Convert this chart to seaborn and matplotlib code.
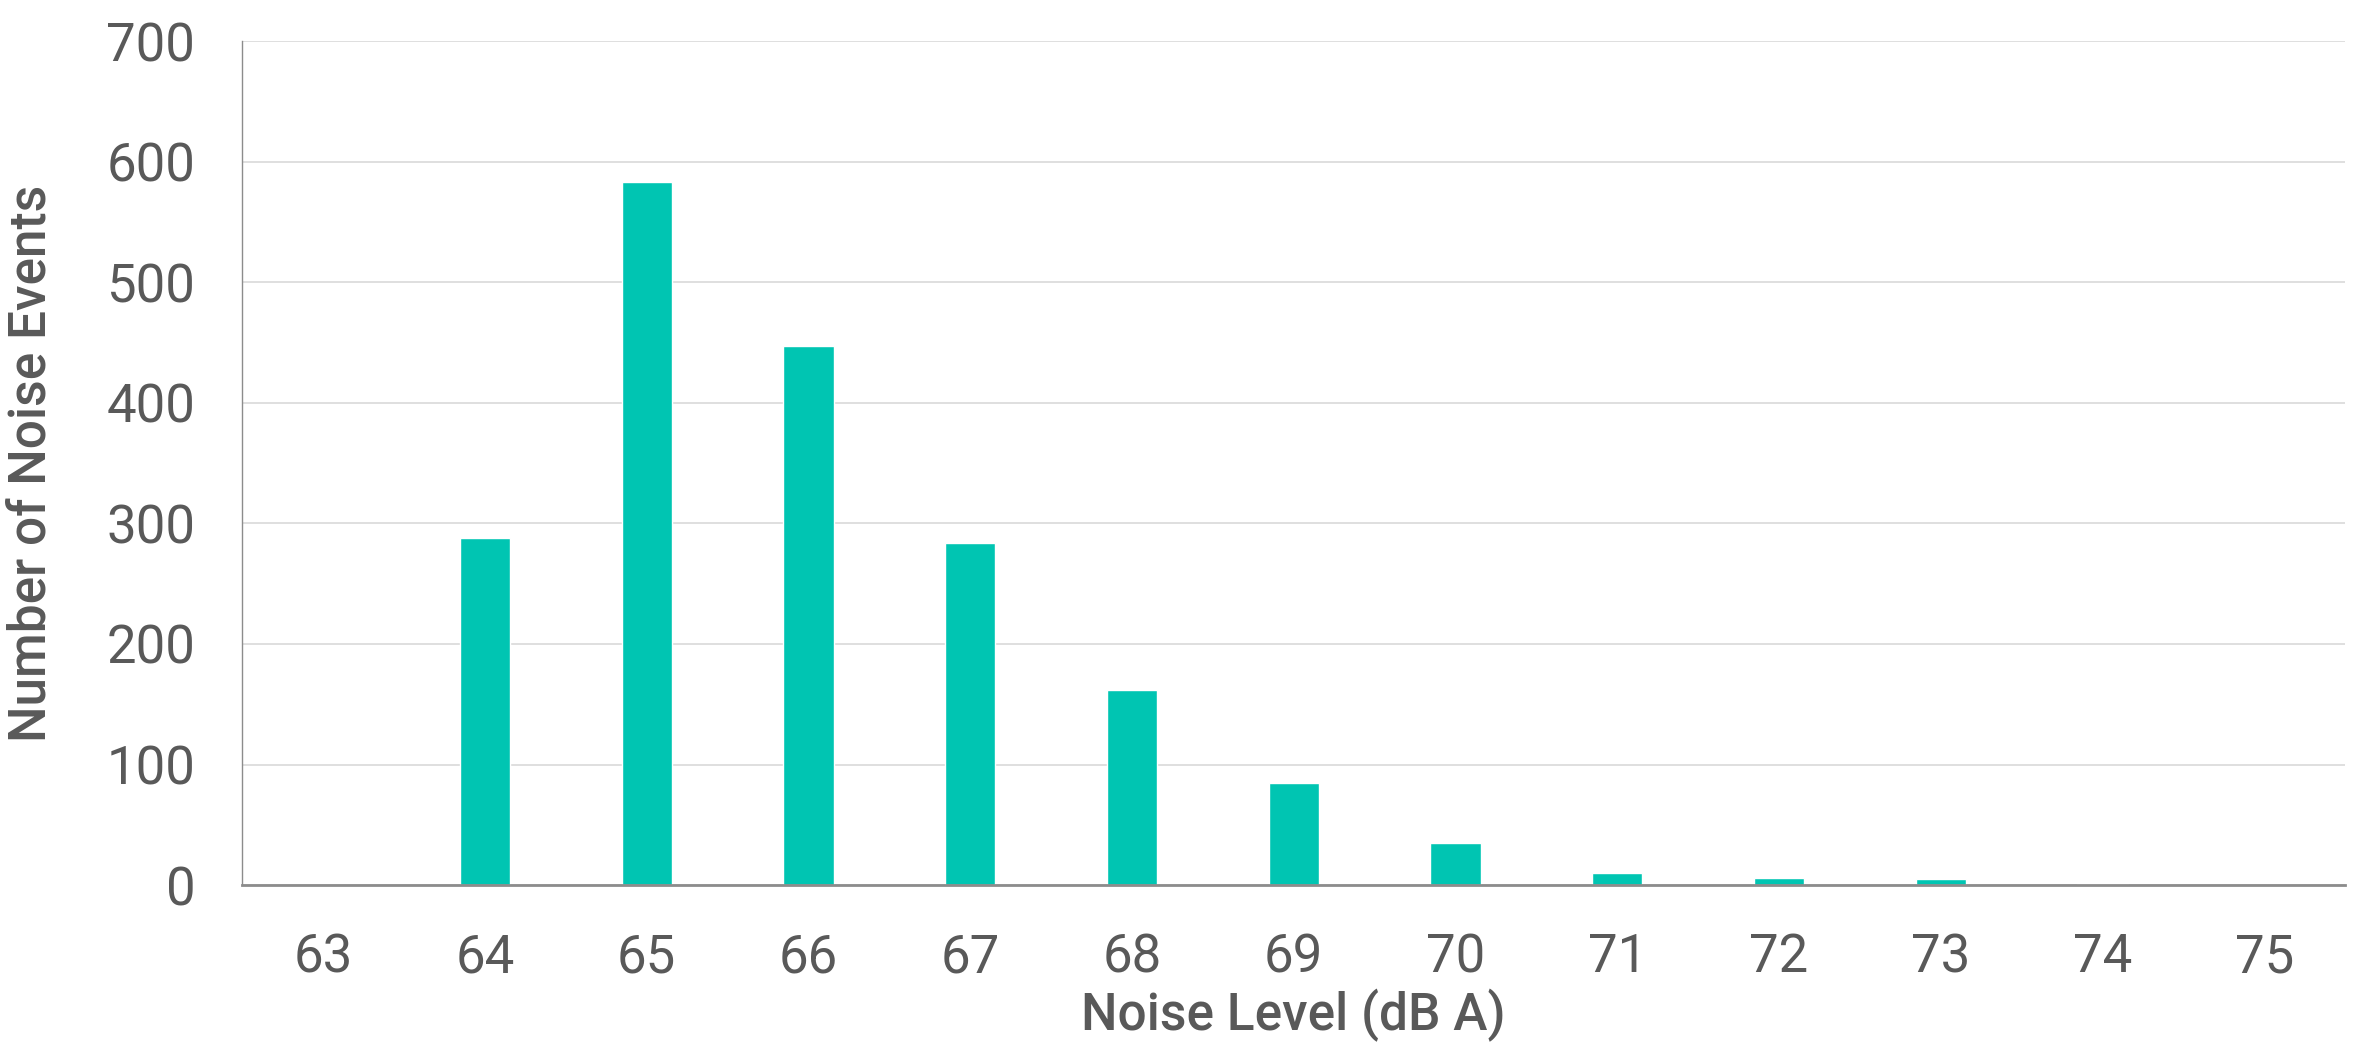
import numpy as np
import pandas as pd
import matplotlib
matplotlib.use("Agg")
import matplotlib.pyplot as plt
import seaborn as sns

# noise level bins (dB A) and how many events fell in each
levels = ['63', '64', '65', '66', '67', '68', '69', '70', '71', '72', '73', '74', '75']
counts = [0, 288, 583, 447, 284, 162, 85, 35, 10, 6, 5, 1, 0]

df = pd.DataFrame({'level': levels, 'events': counts})

sns.set_style('white')
plt.rcParams['font.family'] = ['Roboto', 'DejaVu Sans']

text_grey = '#595959'
bar_col = '#00C5B2'

fig = plt.figure(figsize=(23.76, 10.48), dpi=100)
ax = fig.add_axes([0.102, 0.1555, 0.885, 0.805])

sns.barplot(data=df, x='level', y='events', color=bar_col, saturation=1,
            width=0.31, ax=ax, zorder=3)

ax.set_ylim(0, 700)
ax.set_xlim(-0.5, 12.5)
ax.set_yticks(np.arange(0, 701, 100))
ax.yaxis.grid(True, color='#D9D9D9', linewidth=1.2, zorder=0)
ax.set_axisbelow(True)

for s in ['top', 'right']:
    ax.spines[s].set_visible(False)
ax.spines['left'].set_color('#8C8C8C')
ax.spines['left'].set_linewidth(1.0)
ax.spines['bottom'].set_color('#8C8C8C')
ax.spines['bottom'].set_linewidth(2.0)
ax.spines['bottom'].set_zorder(4)

ax.tick_params(axis='both', length=0, labelsize=38, labelcolor=text_grey, pad=34)

ax.set_xlabel('Noise Level (dB A)', fontsize=37, color=text_grey,
              fontweight='medium', labelpad=4)
ax.set_ylabel('Number of Noise Events', fontsize=37, color=text_grey,
              fontweight='medium', labelpad=36)

fig.savefig('out.png', dpi=100)
